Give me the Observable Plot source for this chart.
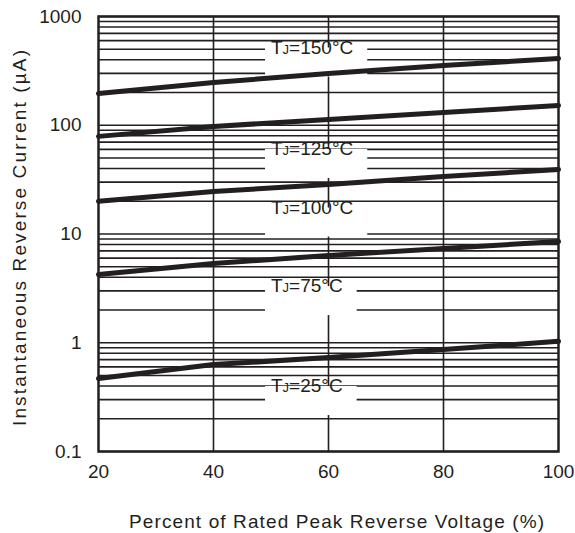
<!DOCTYPE html>
<html><head><meta charset="utf-8">
<script src="https://cdn.jsdelivr.net/npm/d3@7"></script>
<script src="https://cdn.jsdelivr.net/npm/@observablehq/plot@0.6"></script>
<style>body{margin:0;background:#fff} svg{display:block}</style>
</head><body><div id="chart"></div>
<script>
// ---- data ----
const pct = [20, 40, 60, 80, 100];                 // % of rated peak reverse voltage
const tj150 = [196, 247, 299, 354, 411];           // µA
const tj125 = [79, 97.5, 113, 131, 152];
const tj100 = [20, 24.6, 28.5, 33.8, 39.2];
const tj75  = [4.24, 5.35, 6.35, 7.36, 8.53];
const tj25  = [0.47, 0.63, 0.73, 0.867, 1.03];
const seriesNames = ["150", "125", "100", "75", "25"];
const seriesValues = [tj150, tj125, tj100, tj75, tj25];
const labelY = [519, 60.5, 17.5, 3.32, 0.40];      // where each T_J label sits (µA)
const xTicks = [20, 40, 60, 80, 100];
const yTicks = [0.1, 1, 10, 100, 1000];
const yTickLabels = ["0.1", "1", "10", "100", "1000"];
const xGrid = [40, 60, 80];
const xTitle = "Percent of Rated Peak Reverse Voltage (%)";
const yTitle = "Instantaneous Reverse Current (µA)";

const rows = seriesNames.flatMap((t, s) => pct.map((x, i) => ({x, y: seriesValues[s][i], t})));
const labels = seriesNames.map((t, i) => ({t, y: labelY[i]}));
const yGrid = d3.scaleLog().domain([0.1, 1000]).ticks();

const ink = "#231f20";
const plot = Plot.plot({
  width: 575, height: 533,
  marginLeft: 98, marginRight: 17, marginTop: 16, marginBottom: 82,
  style: {fontFamily: '"Liberation Sans", Arial, sans-serif', fontSize: "19px", color: ink, background: "#fff"},
  x: {domain: [20, 100]},
  y: {type: "log", domain: [0.1, 1000]},
  marks: [
    Plot.ruleY(yGrid, {stroke: ink, strokeWidth: 1.6}),
    Plot.ruleX(xGrid, {stroke: ink, strokeWidth: 1.6}),
    Plot.text(labels, {x: 50, y: "y", text: d => "TJ=" + d.t + "°C", textAnchor: "start", fontSize: 19, fill: ink, className: "tjlabels"}),
    Plot.line(rows, {x: "x", y: "y", z: "t", stroke: ink, strokeWidth: 5, strokeLinecap: "round"}),
    Plot.frame({stroke: ink, strokeWidth: 2.5}),
    Plot.axisX(xTicks, {tickSize: 0, tickPadding: 13, fontSize: 19, label: xTitle, labelAnchor: "center", labelOffset: 76, labelArrow: "none"}),
    Plot.axisY(yTicks, {tickSize: 0, tickPadding: 17, fontSize: 19, tickFormat: d => yTickLabels[yTicks.indexOf(d)],
      label: yTitle, labelAnchor: "center", labelOffset: 86, labelArrow: "none"})
  ]
});
document.getElementById("chart").appendChild(plot);

// subscript J and white label boxes
const ns = "http://www.w3.org/2000/svg";
plot.querySelectorAll('g.tjlabels text').forEach((el, i) => {
  const s = labels[i].t;
  el.textContent = "";
  const a = document.createElementNS(ns, "tspan"); a.textContent = "T";
  const b = document.createElementNS(ns, "tspan"); b.textContent = "J"; b.setAttribute("font-size", "13");
  const c = document.createElementNS(ns, "tspan"); c.textContent = "=" + s + "°C";
  el.append(a, b, c);
  const bb = el.getBBox();
  const r = document.createElementNS(ns, "rect");
  const tr = el.getAttribute("transform");
  if (tr) r.setAttribute("transform", tr);
  const ex = +(el.getAttribute("x") || 0), ey = +(el.getAttribute("y") || 0);
  r.setAttribute("x", bb.x - 6); r.setAttribute("width", bb.width + 20);
  r.setAttribute("y", ey - 15); r.setAttribute("height", 29);
  r.setAttribute("fill", "#fff");
  el.parentNode.insertBefore(r, el);
});
// stretch axis titles to the reference's letter spacing
plot.querySelectorAll('g[aria-label="x-axis label"] text').forEach(t => {
  t.setAttribute("textLength", 415); t.setAttribute("lengthAdjust", "spacing"); t.setAttribute("dx", 8);
});
plot.querySelectorAll('g[aria-label="y-axis label"] text').forEach(t => {
  t.setAttribute("textLength", 376); t.setAttribute("lengthAdjust", "spacing"); t.setAttribute("dx", -4);
});
</script>
</body></html>
